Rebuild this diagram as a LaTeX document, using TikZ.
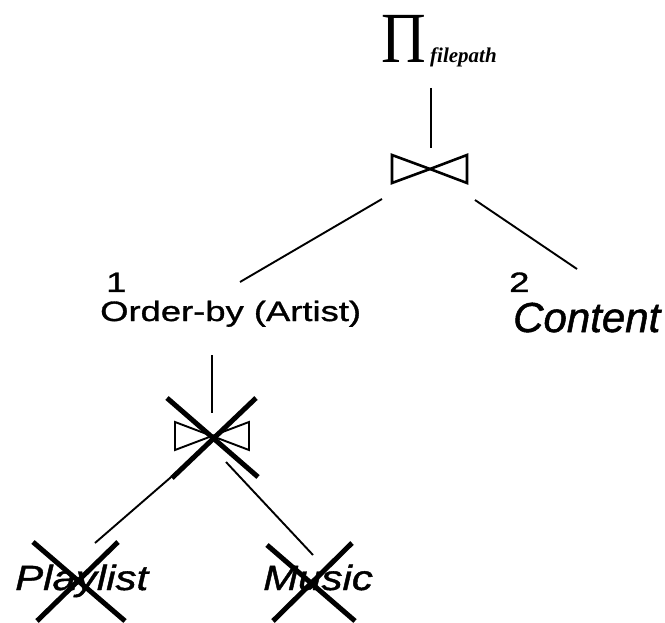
\documentclass[tikz,border=0pt]{standalone}
\usepackage{fontspec}
\newfontfamily\labfont[FakeStretch=1.3,FakeBold=1.2]{Liberation Sans}
\newfontfamily\relfont[FakeStretch=1.2,FakeBold=1.2]{Liberation Sans}
\newfontfamily\contfont[FakeBold=1.2]{Liberation Sans}
\newfontfamily\serfont{Liberation Serif}
\begin{document}
\begin{tikzpicture}[x=1pt,y=-1pt,
  edge/.style={line width=1.9pt},
  cross/.style={line width=5pt},
  bowtie/.style={line width=2.6pt, line join=miter},
  txt/.style={inner sep=0pt, anchor=base west},
  oplabel/.style={txt, font=\labfont\fontsize{28}{28}\selectfont},
  rellabel/.style={txt, font=\relfont\itshape\fontsize{35}{35}\selectfont},
]
\useasboundingbox (0,0) rectangle (665,623);

% projection on top
\node[txt, anchor=base] (pi) at (404,63)
  {\scalebox{0.86}[1]{\serfont\fontsize{72}{72}\selectfont Π}};
\node[txt] (pisub) at (430,63)
  {\serfont\bfseries\itshape\fontsize{21}{21}\selectfont filepath};
\coordinate (piout) at (431,88);

% upper join
\coordinate (j1) at (430,169);
\draw[bowtie] (j1) -- (392,155) -- (392,183) -- cycle;
\draw[bowtie] (j1) -- (467,155) -- (467,183) -- cycle;
\coordinate (j1top) at (431,148);
\coordinate (j1l) at (382,199);
\coordinate (j1r) at (475,200);

% order-by operator and content relation
\node[oplabel] (n1) at (106,292) {1};
\node[oplabel] (ord) at (100,321) {Order-by (Artist)};
\coordinate (ordin) at (240,282);
\coordinate (ordout) at (212,355);
\node[oplabel] (n2) at (509,292) {2};
\node[txt, font=\contfont\itshape\fontsize{42}{42}\selectfont] (content) at (513,332) {Content};
\coordinate (contin) at (577,269);

% lower (removed) join
\coordinate (j2) at (212,436);
\draw[line width=1.9pt] (j2) -- (175,422) -- (175,450) -- cycle;
\draw[line width=1.9pt] (j2) -- (249,422) -- (249,450) -- cycle;
\coordinate (j2top) at (212,413);
\coordinate (j2l) at (200,452);
\coordinate (j2r) at (226,462);

% base relations
\node[rellabel] (play) at (15,590) {Playlist};
\node[rellabel] (music) at (263,590) {Music};
\coordinate (playin) at (95,543);
\coordinate (musicin) at (313,555);

% connectors
\draw[edge] (piout) -- (j1top);
\draw[edge] (j1l) -- (ordin);
\draw[edge] (j1r) -- (contin);
\draw[edge] (ordout) -- (j2top);
\draw[edge] (j2l) -- (playin);
\draw[edge] (j2r) -- (musicin);

% strike-outs
\draw[cross] (167,398) -- (258,477);
\draw[cross] (256,398) -- (172,478);
\draw[cross] (33,542) -- (125,621);
\draw[cross] (118,542) -- (37,621);
\draw[cross] (267,545) -- (355,621);
\draw[cross] (352,543) -- (273,621);
\end{tikzpicture}
\end{document}
